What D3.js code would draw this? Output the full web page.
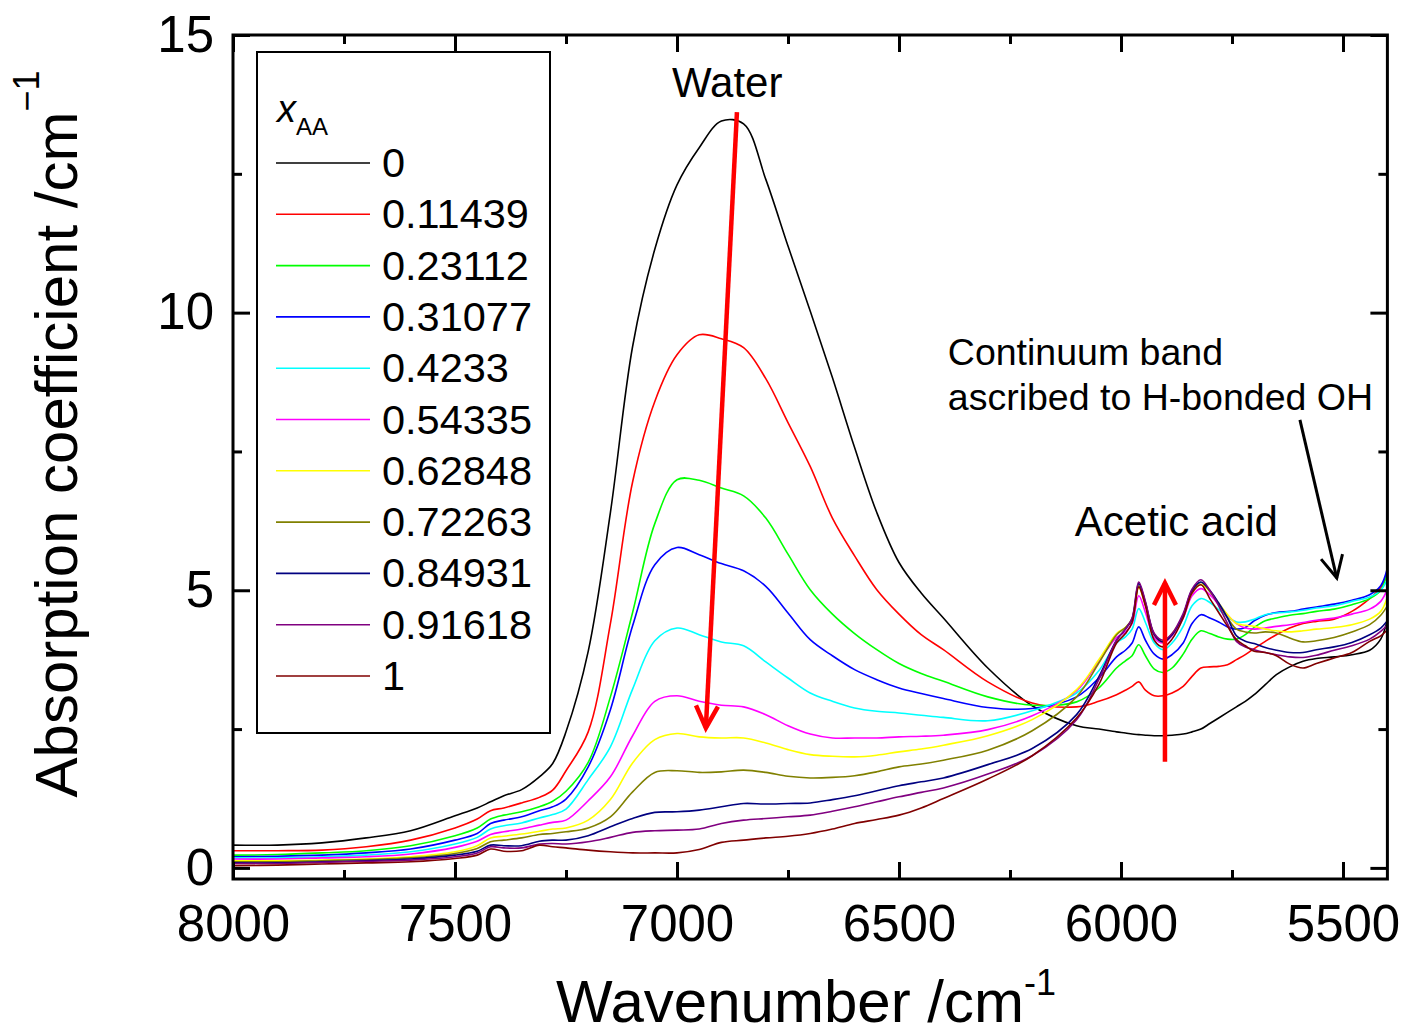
<!DOCTYPE html>
<html>
<head>
<meta charset="utf-8">
<script src="https://cdn.jsdelivr.net/npm/d3@7/dist/d3.min.js"></script>
<style>
body { margin: 0; background: #fff; }
svg text { font-family: "Liberation Sans", Arial, sans-serif; fill: #000; }
</style>
</head>
<body>
<div id="chart"></div>
<script>
// wavenumber grid (cm-1), shared by every spectrum
var wavenumbers = [8000,7900,7800,7700,7600, 7500,7450,7420,7390,7350, 7310,7280,7250,7200,7150,
    7100,7050,7000,6950,6900, 6850,6800,6750,6700,6650, 6600,6550,6500,6450,6400,6300,6200,
    6100,6050,6010,5990,5975, 5960,5945,5925,5905,5885, 5860,5840,5820,5800,5780,
    5760,5740,5720,5700,5675, 5650,5620,5590,5560,5520, 5480,5440,5415,5400];

// absorption coefficient (cm-1), one array per acetic acid mole fraction
var k_0 = [0.41,0.41,0.45,0.54,0.67, 0.94,1.08,1.19,1.3,1.41, 1.64,1.88,2.45,3.9,6.4,
    9.39,11.14,12.3,12.97,13.45, 13.4,12.4,11.2,10.03,8.83, 7.57,6.4,5.5,4.95,4.5,3.6,2.92,
    2.56,2.5,2.45,2.43,2.41, 2.4,2.39,2.38,2.38,2.39, 2.41,2.45,2.5,2.6,2.7,
    2.8,2.9,3.0,3.12,3.3, 3.48,3.62,3.72,3.77,3.8, 3.84,3.92,4.12,4.47];
var k_011439 = [0.31,0.31,0.32,0.38,0.5, 0.72,0.88,1.03,1.08,1.17, 1.27,1.4,1.75,2.45,4.4,
    6.95,8.4,9.24,9.6,9.53, 9.37,8.81,8.02,7.23,6.3, 5.62,5.01,4.57,4.2,3.93,3.35,2.97,
    2.9,3.0,3.12,3.2,3.27, 3.35,3.2,3.1,3.1,3.15, 3.27,3.45,3.6,3.62,3.63,
    3.66,3.75,3.84,3.95,4.08, 4.2,4.32,4.4,4.44,4.48, 4.62,4.85,5.05,5.3];
var k_023112 = [0.23,0.24,0.27,0.31,0.4, 0.58,0.72,0.88,0.95,1.01, 1.1,1.2,1.38,1.9,3.08,
    4.6,6.2,6.99,6.98,6.84, 6.7,6.3,5.65,5.01,4.57, 4.22,3.93,3.68,3.5,3.36,3.08,2.93,
    2.99,3.24,3.6,3.73,3.82, 4.02,3.82,3.58,3.52,3.6, 3.85,4.12,4.27,4.22,4.16,
    4.12,4.12,4.2,4.33,4.45, 4.5,4.55,4.58,4.62,4.66, 4.74,4.85,5.0,5.35];
var k_031077 = [0.2,0.21,0.23,0.27,0.34, 0.5,0.62,0.8,0.86,0.92, 1.03,1.1,1.24,1.82,2.85,
    4.36,5.46,5.77,5.64,5.48, 5.35,5.07,4.59,4.11,3.82, 3.57,3.39,3.24,3.14,3.05,2.89,2.87,
    3.08,3.42,3.8,3.92,4.05, 4.34,4.1,3.85,3.76,3.84, 4.05,4.4,4.56,4.5,4.43,
    4.34,4.3,4.33,4.45,4.55, 4.6,4.62,4.66,4.7,4.75, 4.82,4.92,5.08,5.4];
var k_04233 = [0.18,0.18,0.2,0.23,0.29, 0.43,0.55,0.7,0.76,0.81, 0.9,0.96,1.06,1.59,2.18,
    3.22,4.09,4.32,4.2,4.07, 4.0,3.71,3.42,3.15,3.0, 2.88,2.82,2.79,2.75,2.71,2.65,2.83,
    3.15,3.55,4.05,4.16,4.3, 4.67,4.42,4.05,3.93,4.05, 4.35,4.72,4.85,4.78,4.65,
    4.52,4.43,4.43,4.48,4.56, 4.59,4.61,4.64,4.68,4.72, 4.8,4.88,5.0,5.2];
var k_054335 = [0.16,0.16,0.18,0.2,0.25, 0.37,0.48,0.6,0.65,0.7, 0.77,0.82,0.86,1.21,1.64,
    2.38,3.0,3.1,3.0,2.93, 2.9,2.76,2.56,2.41,2.34, 2.34,2.34,2.36,2.37,2.39,2.49,2.74,
    3.19,3.72,4.15,4.25,4.4, 4.9,4.6,4.15,4.05,4.18, 4.5,4.9,5.03,4.92,4.74,
    4.55,4.4,4.32,4.3,4.32, 4.35,4.38,4.42,4.46,4.5, 4.57,4.66,4.8,5.02];
var k_062848 = [0.13,0.13,0.14,0.16,0.2, 0.29,0.4,0.54,0.57,0.61, 0.66,0.7,0.72,0.86,1.23,
    1.89,2.31,2.42,2.36,2.34, 2.34,2.25,2.13,2.04,2.01, 2.0,2.03,2.09,2.14,2.21,2.38,2.67,
    3.21,3.75,4.22,4.33,4.48, 5.05,4.72,4.2,4.08,4.22, 4.55,4.95,5.1,4.98,4.77,
    4.56,4.4,4.37,4.35,4.3, 4.27,4.25,4.27,4.3,4.33, 4.38,4.48,4.62,4.88];
var k_072263 = [0.11,0.11,0.13,0.15,0.18, 0.26,0.35,0.47,0.5,0.54, 0.6,0.62,0.65,0.72,0.92,
    1.37,1.72,1.75,1.72,1.73, 1.76,1.72,1.65,1.62,1.63, 1.66,1.73,1.82,1.87,1.94,2.12,2.47,
    3.08,3.69,4.2,4.33,4.48, 5.08,4.75,4.2,4.07,4.2, 4.55,4.98,5.14,4.98,4.75,
    4.5,4.3,4.25,4.23,4.25, 4.23,4.14,4.07,4.09,4.15, 4.25,4.38,4.55,4.72];
var k_084931 = [0.09,0.09,0.11,0.13,0.16, 0.23,0.3,0.41,0.4,0.4, 0.48,0.5,0.5,0.58,0.74,
    0.89,1.0,1.01,1.04,1.1, 1.16,1.15,1.16,1.17,1.23, 1.3,1.39,1.48,1.55,1.62,1.86,2.15,
    2.76,3.44,4.1,4.3,4.48, 5.12,4.78,4.2,4.07,4.2, 4.55,5.0,5.15,5.0,4.77,
    4.5,4.18,4.08,4.04,3.97, 3.92,3.88,3.88,3.93,3.98, 4.06,4.2,4.32,4.45];
var k_091618 = [0.08,0.08,0.1,0.12,0.14, 0.2,0.27,0.38,0.36,0.36, 0.43,0.44,0.43,0.47,0.55,
    0.64,0.67,0.68,0.7,0.8, 0.86,0.89,0.92,0.95,1.02, 1.1,1.19,1.28,1.36,1.44,1.69,2.02,
    2.67,3.39,4.1,4.3,4.5, 5.15,4.8,4.22,4.1,4.22, 4.58,5.02,5.19,5.0,4.72,
    4.4,4.08,3.98,3.93,3.88, 3.84,3.8,3.79,3.83,3.92, 4.0,4.12,4.26,4.38];
var k_1 = [0.04,0.05,0.07,0.09,0.11, 0.17,0.23,0.34,0.3,0.31, 0.41,0.38,0.36,0.32,0.29,
    0.27,0.27,0.27,0.33,0.46, 0.5,0.54,0.57,0.62,0.7, 0.8,0.87,0.95,1.08,1.25,1.6,2.02,
    2.7,3.3,4.05,4.22,4.42, 5.06,4.72,4.1,3.98,4.12, 4.5,4.95,5.1,4.85,4.6,
    4.35,4.11,4.0,3.9,3.88, 3.82,3.67,3.6,3.68,3.78, 3.88,4.08,4.18,4.29];

var xAALabels = ["0", "0.11439", "0.23112", "0.31077", "0.4233", "0.54335",
    "0.62848", "0.72263", "0.84931", "0.91618", "1"];
var xTicks = [8000, 7500, 7000, 6500, 6000, 5500];
var yTicks = [0, 5, 10, 15];

// colours of Origin's default line cycle
var lineColors = ["#000000", "#ff0000", "#00ff00", "#0000ff", "#00ffff", "#ff00ff",
    "#ffff00", "#808000", "#000080", "#800080", "#800000"];

var spectra = [k_0, k_011439, k_023112, k_031077, k_04233, k_054335,
    k_062848, k_072263, k_084931, k_091618, k_1];

const chartWidth = 1404;
const chartHeight = 1034;
var plotLeft = 233;
var plotRight = 1387.4;
var plotTop = 35;
var plotBottom = 879;

var svg = d3.select("#chart").append("svg")
    .attr("width", chartWidth)
    .attr("height", chartHeight);

var x = d3.scaleLinear().domain([8000, 5400]).range([plotLeft, plotRight]);
var y = d3.scaleLinear().domain([-0.2, 15]).range([plotBottom, plotTop]);

// spectra
svg.append("clipPath").attr("id", "plotClip")
    .append("rect")
    .attr("x", plotLeft).attr("y", plotTop)
    .attr("width", plotRight - plotLeft).attr("height", plotBottom - plotTop);

var line = d3.line()
    .x(function(d) { return x(d[0]); })
    .y(function(d) { return y(d[1]); })
    .curve(d3.curveCatmullRom.alpha(0.5));

svg.append("g").attr("clip-path", "url(#plotClip)")
    .selectAll("path")
    .data(spectra)
    .enter()
    .append("path")
    .attr("fill", "none")
    .attr("stroke", function(d, i) { return lineColors[i]; })
    .attr("stroke-width", 1.6)
    .attr("d", function(d) {
        return line(wavenumbers.map(function(w, j) { return [w, d[j]]; }));
    });

// axes: ticks point inwards on all four sides
function styleAxis(g) {
    g.select(".domain").remove();
    g.selectAll(".tick line").attr("stroke", "#000").attr("stroke-width", 3);
    g.selectAll(".tick text").attr("font-size", 51).attr("fill", "#000")
        .style("font-family", "'Liberation Sans', Arial, sans-serif");
}

var xMinor = d3.range(7750, 5400, -500);
var yMinor = [2.5, 7.5, 12.5];

svg.append("g").attr("transform", "translate(0," + plotBottom + ")")
    .call(d3.axisBottom(x).tickValues(xTicks).tickSize(-17).tickPadding(26)
        .tickFormat(d3.format("d")))
    .call(styleAxis);
svg.append("g").attr("transform", "translate(0," + plotBottom + ")")
    .call(d3.axisBottom(x).tickValues(xMinor).tickSize(-9).tickFormat(""))
    .call(styleAxis);
svg.append("g").attr("transform", "translate(0," + plotTop + ")")
    .call(d3.axisTop(x).tickValues(xTicks).tickSize(-17).tickFormat(""))
    .call(styleAxis);
svg.append("g").attr("transform", "translate(0," + plotTop + ")")
    .call(d3.axisTop(x).tickValues(xMinor).tickSize(-9).tickFormat(""))
    .call(styleAxis);

svg.append("g").attr("transform", "translate(" + plotLeft + ",0)")
    .call(d3.axisLeft(y).tickValues(yTicks).tickSize(-17).tickPadding(19))
    .call(styleAxis);
svg.append("g").attr("transform", "translate(" + plotLeft + ",0)")
    .call(d3.axisLeft(y).tickValues(yMinor).tickSize(-9).tickFormat(""))
    .call(styleAxis);
svg.append("g").attr("transform", "translate(" + plotRight + ",0)")
    .call(d3.axisRight(y).tickValues(yTicks).tickSize(-17).tickFormat(""))
    .call(styleAxis);
svg.append("g").attr("transform", "translate(" + plotRight + ",0)")
    .call(d3.axisRight(y).tickValues(yMinor).tickSize(-9).tickFormat(""))
    .call(styleAxis);

// frame
svg.append("rect")
    .attr("x", plotLeft).attr("y", plotTop)
    .attr("width", plotRight - plotLeft).attr("height", plotBottom - plotTop)
    .attr("fill", "none").attr("stroke", "#000").attr("stroke-width", 3);

// axis titles
var xTitle = svg.append("text")
    .attr("x", 806).attr("y", 1022)
    .attr("text-anchor", "middle")
    .attr("font-size", 60);
xTitle.append("tspan").text("Wavenumber /cm");
xTitle.append("tspan").attr("font-size", 36).attr("dy", -27).text("-1");

var yTitle = svg.append("text")
    .attr("transform", "translate(77,434) rotate(-90)")
    .attr("text-anchor", "middle")
    .attr("font-size", 60);
yTitle.append("tspan").text("Absorption coefficient /cm");
yTitle.append("tspan").attr("font-size", 36).attr("dy", -38).text("\u22121");

// legend
var legend = svg.append("g");
legend.append("rect")
    .attr("x", 257).attr("y", 52).attr("width", 293).attr("height", 681)
    .attr("fill", "#fff").attr("stroke", "#000").attr("stroke-width", 2);

var legendTitle = legend.append("text").attr("x", 277).attr("y", 122).attr("font-size", 38);
legendTitle.append("tspan").attr("font-style", "italic").text("x");
legendTitle.append("tspan").attr("font-size", 24).attr("dy", 13).text("AA");

var rows = legend.selectAll("g.row")
    .data(xAALabels)
    .enter()
    .append("g")
    .attr("class", "row")
    .attr("transform", function(d, i) { return "translate(0," + (163 + i * 51.3) + ")"; });
rows.append("line")
    .attr("x1", 276).attr("x2", 370)
    .attr("stroke", function(d, i) { return lineColors[i]; })
    .attr("stroke-width", 1.6);
rows.append("text")
    .attr("x", 382).attr("y", 14)
    .attr("font-size", 41.5)
    .text(function(d) { return d; });

// annotations, anchored in data coordinates
function arrow(w1, k1, w2, k2, color, width) {
    var x1 = x(w1), y1 = y(k1), x2 = x(w2), y2 = y(k2);
    var len = Math.hypot(x2 - x1, y2 - y1);
    var ux = (x2 - x1) / len, uy = (y2 - y1) / len;
    var back = 22, half = 11;
    var bx = x2 - ux * back, by = y2 - uy * back;
    svg.append("line")
        .attr("x1", x1).attr("y1", y1).attr("x2", x2).attr("y2", y2)
        .attr("stroke", color).attr("stroke-width", width);
    svg.append("path")
        .attr("d", "M" + (bx - uy * half) + "," + (by + ux * half)
            + "L" + x2 + "," + y2
            + "L" + (bx + uy * half) + "," + (by - ux * half))
        .attr("fill", "none").attr("stroke", color).attr("stroke-width", width)
        .attr("stroke-linejoin", "miter");
}

svg.append("text").attr("x", x(6887)).attr("y", y(13.88))
    .attr("text-anchor", "middle").attr("font-size", 42).text("Water");
arrow(6865, 13.61, 6935, 2.52, "#ff0000", 4.5);

svg.append("text").attr("x", x(6104)).attr("y", y(5.98))
    .attr("font-size", 42).text("Acetic acid");
arrow(5901, 1.91, 5901, 5.13, "#ff0000", 4.5);

svg.append("text").attr("x", x(6390)).attr("y", y(9.06))
    .attr("font-size", 37.5).text("Continuum band");
svg.append("text").attr("x", x(6390)).attr("y", y(8.25))
    .attr("font-size", 37.5).text("ascribed to H-bonded OH");
arrow(5597, 8.07, 5514, 5.22, "#000000", 3);
</script>
</body>
</html>
